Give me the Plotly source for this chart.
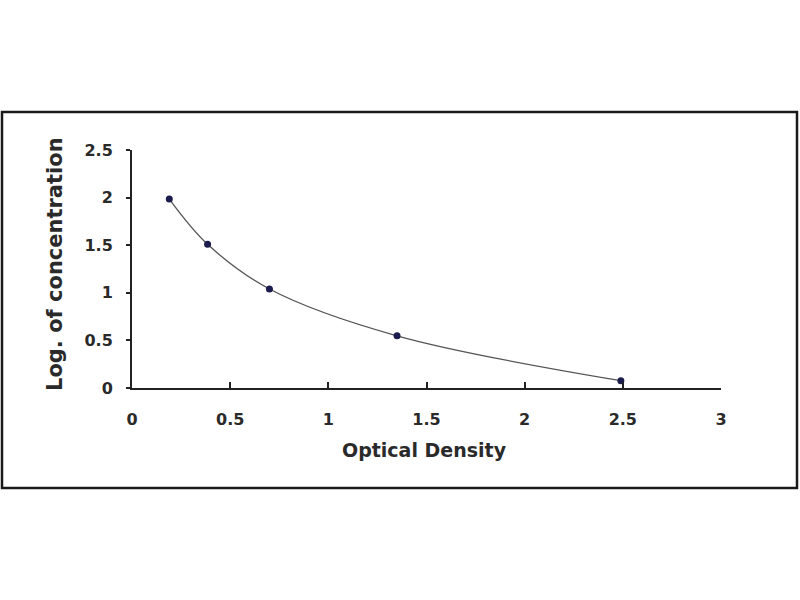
import plotly.graph_objects as go

od = [0.19, 0.385, 0.70, 1.35, 2.49]
log_conc = [1.985, 1.51, 1.04, 0.548, 0.077]

x_ticks = [0, 0.5, 1, 1.5, 2, 2.5, 3]
x_labels = ["0", "0.5", "1", "1.5", "2", "2.5", "3"]
y_ticks = [0, 0.5, 1, 1.5, 2, 2.5]
y_labels = ["0", "0.5", "1", "1.5", "2", "2.5"]

FONT = "DejaVu Sans"
TXT = "#2a2a2a"

L, R, T, B = 132, 79, 150, 212
W, H = 800, 600
pw, ph = W - L - R, H - T - B

def px_x(p):
    return (p - L) / pw

def px_y(p):
    return (H - B - p) / ph

fig = go.Figure()
fig.add_trace(go.Scatter(
    x=od, y=log_conc, mode="lines",
    line=dict(color="#555555", width=1.3, shape="spline", smoothing=1.0),
    hoverinfo="skip", cliponaxis=False, showlegend=False))
fig.add_trace(go.Scatter(
    x=od, y=log_conc, mode="markers",
    marker=dict(color="#1b1b4d", size=7),
    cliponaxis=False, showlegend=False))

fig.update_layout(
    width=W, height=H,
    margin=dict(l=L, r=R, t=T, b=B),
    paper_bgcolor="white", plot_bgcolor="white",
    font=dict(family=FONT, color=TXT),
    xaxis=dict(range=[0, 3], tickvals=x_ticks, ticktext=x_labels,
               showgrid=False, zeroline=False, showline=True,
               linecolor="#222222", linewidth=2,
               ticks="inside", ticklen=6, tickwidth=1.5, tickcolor="#222222",
               tickfont=dict(family=FONT, size=16, color=TXT, weight="bold"),
               ticklabelstandoff=16, fixedrange=True),
    yaxis=dict(range=[0, 2.5], tickvals=y_ticks, ticktext=y_labels,
               showgrid=False, zeroline=False, showline=True,
               linecolor="#222222", linewidth=2,
               ticks="outside", ticklen=4, tickwidth=1.5, tickcolor="#222222",
               tickfont=dict(family=FONT, size=16, color=TXT, weight="bold"),
               ticklabelstandoff=10, fixedrange=True),
    shapes=[dict(type="rect", xref="paper", yref="paper",
                 x0=px_x(2), x1=px_x(797), y0=px_y(488), y1=px_y(112),
                 line=dict(color="#1a1a1a", width=2.5), layer="below")],
    annotations=[
        dict(text="<b>Optical Density</b>", xref="paper", yref="paper",
             x=px_x(424), y=px_y(450), showarrow=False,
             xanchor="center", yanchor="middle",
             font=dict(family=FONT, size=19, color=TXT)),
        dict(text="<b>Log. of concentration</b>", xref="paper", yref="paper",
             x=px_x(55), y=px_y(264), showarrow=False, textangle=-90,
             xanchor="center", yanchor="middle",
             font=dict(family=FONT, size=21, color=TXT)),
    ],
)

fig.write_html("out.html", config={"displayModeBar": False},
               post_script="document.body.style.margin='0';document.body.style.overflow='hidden';")
